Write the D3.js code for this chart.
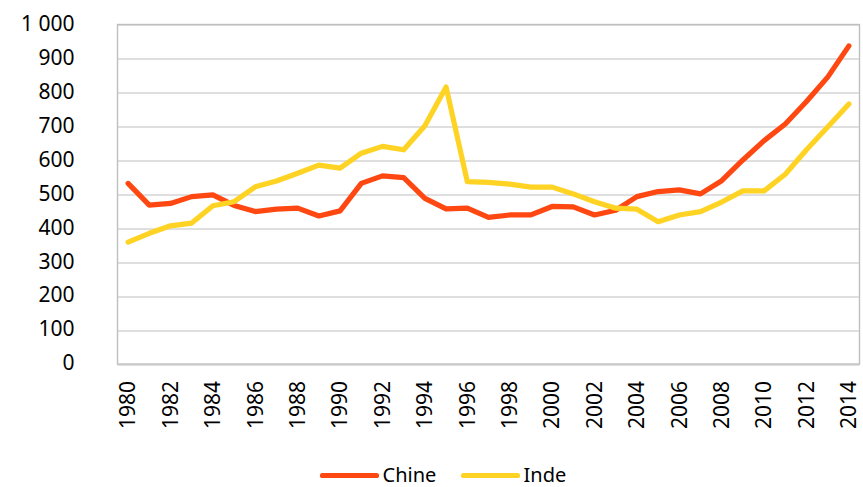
<!DOCTYPE html>
<html>
<head>
<meta charset="utf-8">
<script src="https://cdn.jsdelivr.net/npm/d3@7"></script>
<style>
  body { margin: 0; background: #fff; }
  text { font-family: "Noto Sans", "Open Sans", sans-serif; fill: #000; }
</style>
</head>
<body>
<div id="chart"></div>
<script>
// years on the x axis
const years = d3.range(1980, 2015);

const chine = [532, 468, 473, 493, 498, 467, 449, 456, 459, 436,
  451, 532, 554, 549, 488, 457, 459, 432, 439, 439,
  464, 463, 439, 453, 493, 508, 513, 501, 540, 601,
  658, 707, 773, 845, 937];

const inde = [359, 385, 407, 415, 466, 478, 522, 539, 562, 586,
  577, 621, 641, 631, 702, 816, 537, 535, 530, 521,
  521, 501, 478, 459, 456, 419, 439, 449, 477, 510,
  510, 559, 631, 698, 766];

const yTicks = [0, 100, 200, 300, 400, 500, 600, 700, 800, 900, 1000];
const xTickYears = years.filter(y => y % 2 === 0);

const series = [
  {name: "Chine", values: chine, color: "#FF4712"},
  {name: "Inde", values: inde, color: "#FFD323"}
];

const W = 863, H = 487;
const margin = {top: 24.5, right: 3.5, bottom: 123, left: 117.5};
const width = W - margin.left - margin.right,
  height = H - margin.top - margin.bottom;

const svg = d3.select("#chart")
  .append("svg")
  .attr("width", W)
  .attr("height", H)
  .append("g")
  .attr("transform", `translate(${margin.left}, ${margin.top})`);

const x = d3.scaleBand()
  .domain(years)
  .range([0, width]);

const y = d3.scaleLinear()
  .domain([0, 1000])
  .range([height, 0]);

// grid lines
svg.selectAll(".grid")
  .data(yTicks)
  .join("line")
  .attr("x1", 0)
  .attr("x2", width)
  .attr("y1", d => Math.round(y(d)) + 0.5)
  .attr("y2", d => Math.round(y(d)) + 0.5)
  .attr("stroke", "#BFBFBF")
  .attr("stroke-width", 1.2);

// plot border
svg.append("rect")
  .attr("x", 0)
  .attr("y", 0)
  .attr("width", width)
  .attr("height", height)
  .attr("fill", "none")
  .attr("stroke", "#BFBFBF")
  .attr("stroke-width", 1.4);

// y axis labels
const fmt = d => d3.format(",")(d).replace(",", " ");
const yAxis = svg.append("g")
  .call(d3.axisLeft(y).tickValues(yTicks).tickSize(0).tickPadding(43).tickFormat(fmt));
yAxis.select(".domain").remove();
yAxis.selectAll("text")
  .attr("font-size", "21px")
  .attr("font-family", "Noto Sans")
  .attr("dy", "0.28em");

// x axis labels, rotated
const xAxis = svg.append("g")
  .attr("transform", `translate(0, ${height})`)
  .call(d3.axisBottom(x).tickValues(xTickYears).tickSize(0).tickFormat(d => d));
xAxis.select(".domain").remove();
xAxis.selectAll("text")
  .attr("font-size", "21px")
  .attr("font-family", "Noto Sans")
  .attr("text-anchor", "end")
  .attr("transform", "rotate(-90)")
  .attr("x", -17)
  .attr("y", 0)
  .attr("dy", "0.35em");

const line = d3.line()
  .x((d, i) => x(years[i]) + x.bandwidth() / 2)
  .y(d => y(d));

svg.selectAll(".serie")
  .data(series)
  .join("path")
  .attr("fill", "none")
  .attr("stroke", d => d.color)
  .attr("stroke-width", 5.2)
  .attr("stroke-linejoin", "round")
  .attr("stroke-linecap", "round")
  .attr("d", d => line(d.values));

// legend
const legend = svg.append("g")
  .attr("transform", `translate(0, ${475.5 - margin.top})`);
const legX = [322.5 - margin.left, 463.5 - margin.left];
series.forEach((s, i) => {
  const g = legend.append("g").attr("transform", `translate(${legX[i]}, 0)`);
  g.append("line")
    .attr("x1", 0).attr("x2", 54)
    .attr("y1", 0).attr("y2", 0)
    .attr("stroke", s.color)
    .attr("stroke-width", 5.2)
    .attr("stroke-linecap", "round");
  g.append("text")
    .attr("x", 60)
    .attr("y", 0)
    .attr("dy", "0.3em")
    .attr("font-size", "20px")
    .text(s.name);
});
</script>
</body>
</html>
